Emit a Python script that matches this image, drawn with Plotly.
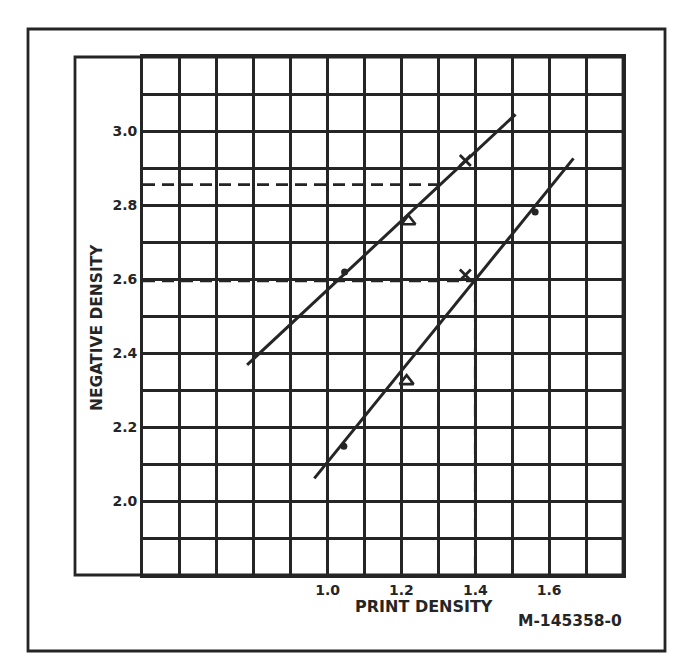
import plotly.graph_objects as go

# ---- data ----
grid_x = [0.6, 0.7, 0.8, 0.9, 1.0, 1.1, 1.2, 1.3, 1.4, 1.5, 1.6, 1.7]
grid_x_labels = ["", "", "", "", "1.0", "", "1.2", "", "1.4", "", "1.6", ""]
grid_y = [1.9, 2.0, 2.1, 2.2, 2.3, 2.4, 2.5, 2.6, 2.7, 2.8, 2.9, 3.0, 3.1]
grid_y_labels = ["", "2.0", "", "2.2", "", "2.4", "", "2.6", "", "2.8", "", "3.0", ""]

upper_line_x = [0.782, 1.509]
upper_line_y = [2.368, 3.045]
lower_line_x = [0.964, 1.666]
lower_line_y = [2.061, 2.926]

dot_x = [1.046, 1.044, 1.562]
dot_y = [2.619, 2.148, 2.781]
tri_x = [1.219, 1.214]
tri_y = [2.756, 2.324]
cross_x = [1.373, 1.373]
cross_y = [2.920, 2.611]

read_print = [1.3, 1.4]
read_neg = [2.855, 2.595]

X_MIN, X_MAX = 0.5, 1.8
Y_MIN, Y_MAX = 1.8, 3.2

INK = "#252525"
FONT = "DejaVu Sans, Liberation Sans, sans-serif"

fig = go.Figure()

# reading (dashed) lines
for px, ny in zip(read_print, read_neg):
    fig.add_trace(go.Scatter(
        x=[X_MIN, px, px], y=[ny, ny, Y_MIN], mode="lines",
        line=dict(color=INK, width=2.8, dash="12px,7px"),
        hoverinfo="skip", showlegend=False))

# fitted lines
for lx, ly in ((upper_line_x, upper_line_y), (lower_line_x, lower_line_y)):
    fig.add_trace(go.Scatter(
        x=lx, y=ly, mode="lines", line=dict(color=INK, width=3),
        showlegend=False))

# markers
fig.add_trace(go.Scatter(x=dot_x, y=dot_y, mode="markers",
                         marker=dict(symbol="circle", size=7, color=INK),
                         showlegend=False))
fig.add_trace(go.Scatter(x=tri_x, y=tri_y, mode="markers",
                         marker=dict(symbol="triangle-up-open", size=12,
                                     color=INK, line=dict(width=2.6, color=INK)),
                         showlegend=False))
fig.add_trace(go.Scatter(x=cross_x, y=cross_y, mode="markers",
                         marker=dict(symbol="x-thin-open", size=11,
                                     color=INK, line=dict(width=2.8, color=INK)),
                         showlegend=False))

# geometry of the drawing (page pixels); the page body adds an 8 px offset
OFF = 8
L, R, T, B = 143, 623, 57, 575
W, H = R - L, B - T
FIG_W, FIG_H = 689 - OFF, 668 - OFF


def px_x(p):
    return (p - L) / W


def px_y(p):
    return (B - p) / H


shapes = [
    # inner box including the wide label column
    dict(type="rect", xref="paper", yref="paper",
         x0=px_x(75), x1=1, y0=0, y1=1,
         line=dict(color=INK, width=2.8), layer="above"),
    # outer frame
    dict(type="rect", xref="paper", yref="paper",
         x0=px_x(28), x1=px_x(665), y0=px_y(651), y1=px_y(29),
         line=dict(color=INK, width=2.8), layer="above"),
]

annotations = [
    dict(text="<b>NEGATIVE DENSITY</b>", xref="paper", yref="paper",
         x=px_x(97), y=px_y(328), textangle=-90, showarrow=False,
         font=dict(family=FONT, size=15.5, color=INK), xanchor="center",
         yanchor="middle"),
    dict(text="<b>PRINT DENSITY</b>", xref="paper", yref="paper",
         x=px_x(424), y=px_y(606), showarrow=False,
         font=dict(family=FONT, size=16, color=INK), xanchor="center",
         yanchor="middle"),
    dict(text="<b>M-145358-0</b>", xref="paper", yref="paper",
         x=px_x(570), y=px_y(621), showarrow=False,
         font=dict(family=FONT, size=15.5, color=INK), xanchor="center",
         yanchor="middle"),
]

fig.update_layout(
    width=FIG_W, height=FIG_H,
    margin=dict(l=L - OFF, r=FIG_W - (R - OFF), t=T - OFF,
                b=FIG_H - (B - OFF)),
    paper_bgcolor="white", plot_bgcolor="white",
    shapes=shapes, annotations=annotations,
    showlegend=False,
    font=dict(family=FONT, color=INK),
)
fig.update_xaxes(
    range=[X_MIN, X_MAX], tickmode="array", tickvals=grid_x,
    ticktext=[f"<b>{t}</b>" if t else "" for t in grid_x_labels],
    showgrid=True, gridcolor=INK, gridwidth=2.8, zeroline=False,
    showline=True, linecolor=INK, linewidth=2.8, mirror=True,
    ticks="", tickfont=dict(family=FONT, size=14, color=INK),
)
fig.update_yaxes(
    range=[Y_MIN, Y_MAX], tickmode="array", tickvals=grid_y,
    ticktext=[f"<b>{t}</b>" if t else "" for t in grid_y_labels],
    showgrid=True, gridcolor=INK, gridwidth=2.8, zeroline=False,
    showline=True, linecolor=INK, linewidth=2.8, mirror=True,
    ticks="", tickfont=dict(family=FONT, size=14, color=INK),
    ticklabelstandoff=0,
)

fig.write_html("out.html")
